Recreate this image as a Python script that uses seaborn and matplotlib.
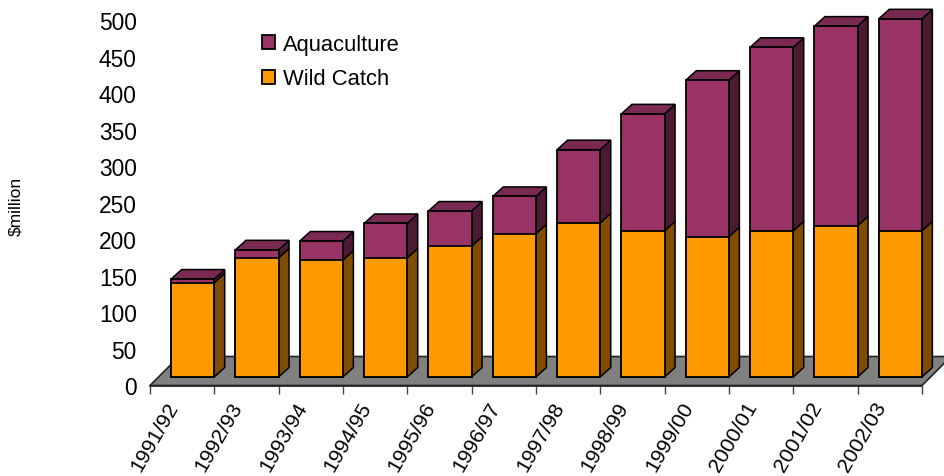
import matplotlib
matplotlib.use("Agg")
import matplotlib.pyplot as plt
from matplotlib.patches import Patch, Polygon
import numpy as np
import pandas as pd
import seaborn as sns

# values
years = ['1991/92', '1992/93', '1993/94', '1994/95', '1995/96', '1996/97',
         '1997/98', '1998/99', '1999/00', '2000/01', '2001/02', '2002/03']
wild_catch = [129, 163, 160, 163, 179, 196, 211, 200, 192, 200, 207, 200]
aquaculture = [5, 11, 26, 47, 48, 51, 100, 160, 214, 251, 273, 290]
y_ticks = [0, 50, 100, 150, 200, 250, 300, 350, 400, 450, 500]

sns.set_theme(style='white')
plt.rcParams['font.family'] = ['Liberation Sans', 'DejaVu Sans']

df = pd.DataFrame({'year': years, 'wild': wild_catch, 'aqua': aquaculture})
df['total'] = df['wild'] + df['aqua']

fig = plt.figure(figsize=(9.45, 4.77), dpi=100)
ax = fig.add_axes([150 / 945, 1 - 386.5 / 477, 772 / 945, 365.5 / 477])

# total goes behind, wild catch on top of it = stacked
bar_w = 0.67
sns.barplot(data=df, x='year', y='total', color='#993366', saturation=1,
            width=bar_w, edgecolor='black', linewidth=1.3, ax=ax, zorder=3)
sns.barplot(data=df, x='year', y='wild', color='#FF9900', saturation=1,
            width=bar_w, edgecolor='black', linewidth=1.3, ax=ax, zorder=3)

ax.set_xlim(-0.5, 11.5)
ax.set_ylim(0, 500)

# fake 3d depth, in data units
px_x = 1 / 64.33
px_y = 500 / 365.5
shift_x, shift_y = 10.5 * px_x, 8.5 * px_y
depth_x, depth_y = 10.5 * px_x, 9.5 * px_y
floor_x, floor_y = 29 * px_x, 29 * px_y

ax.add_patch(Polygon([(-0.5, 0), (11.5, 0), (11.5 + floor_x, floor_y), (-0.5 + floor_x, floor_y)],
                     closed=True, facecolor='#808080', edgecolor='#222222', linewidth=1.2,
                     clip_on=False, zorder=1))

n = len(years)
total_bars = ax.patches[:n]
wild_bars = ax.patches[n:2 * n]


def side_faces(left, low, high, side_color, top_color=None):
    right = left + bar_w
    kw = dict(closed=True, edgecolor='black', linewidth=1.1, clip_on=False, zorder=2.5)
    ax.add_patch(Polygon([(right, low), (right + depth_x, low + depth_y),
                          (right + depth_x, high + depth_y), (right, high)],
                         facecolor=side_color, **kw))
    if top_color:
        ax.add_patch(Polygon([(left, high), (right, high),
                              (right + depth_x, high + depth_y), (left + depth_x, high + depth_y)],
                             facecolor=top_color, **kw))


for t_bar, w_bar, wild, total in zip(total_bars, wild_bars, df['wild'], df['total']):
    left = t_bar.get_x() + shift_x
    for p in (t_bar, w_bar):
        p.set_x(left)
        p.set_y(shift_y)
        p.set_clip_on(False)
    side_faces(left, shift_y, wild + shift_y, '#7F4C00')
    side_faces(left, wild + shift_y, total + shift_y, '#4D1A33', '#7A2952')

ax.set_xlabel('')
ax.set_ylabel('')
ax.set_yticks(y_ticks)
ax.tick_params(axis='y', length=0, pad=9.5, labelsize=16.4, labelcolor='black')
ax.set_xticks(range(n))
ax.set_xticklabels(years, rotation=60, ha='right', va='bottom', rotation_mode='anchor',
                   fontsize=15.2, color='black')
ax.set_xticks(np.arange(n + 1) - 0.5, minor=True)
ax.tick_params(axis='x', which='major', length=0, pad=16)
ax.tick_params(axis='x', which='minor', bottom=True, length=6, width=1, color='#444444')

for s in ['left', 'top', 'right']:
    ax.spines[s].set_visible(False)
ax.spines['bottom'].set_color('#222222')
ax.spines['bottom'].set_linewidth(1.2)
ax.spines['bottom'].set_zorder(2)
ax.patch.set_alpha(0)

handles = [Patch(facecolor='#993366', edgecolor='black', linewidth=1.3, label='Aquaculture'),
           Patch(facecolor='#FF9900', edgecolor='black', linewidth=1.3, label='Wild Catch')]
fig.legend(handles=handles, loc='upper left', bbox_to_anchor=(242 / 945, 1 - 15 / 477),
           frameon=False, fontsize=15.8, handlelength=0.6, handleheight=0.6, labelcolor='black',
           handletextpad=0.35, labelspacing=0.62, borderpad=0.4)

fig.text(16 / 945, 1 - 206 / 477, '$million', rotation=90, ha='center', va='center',
         fontsize=12.5, color='black', parse_math=False)

fig.savefig('out.png', dpi=100, facecolor='white')
